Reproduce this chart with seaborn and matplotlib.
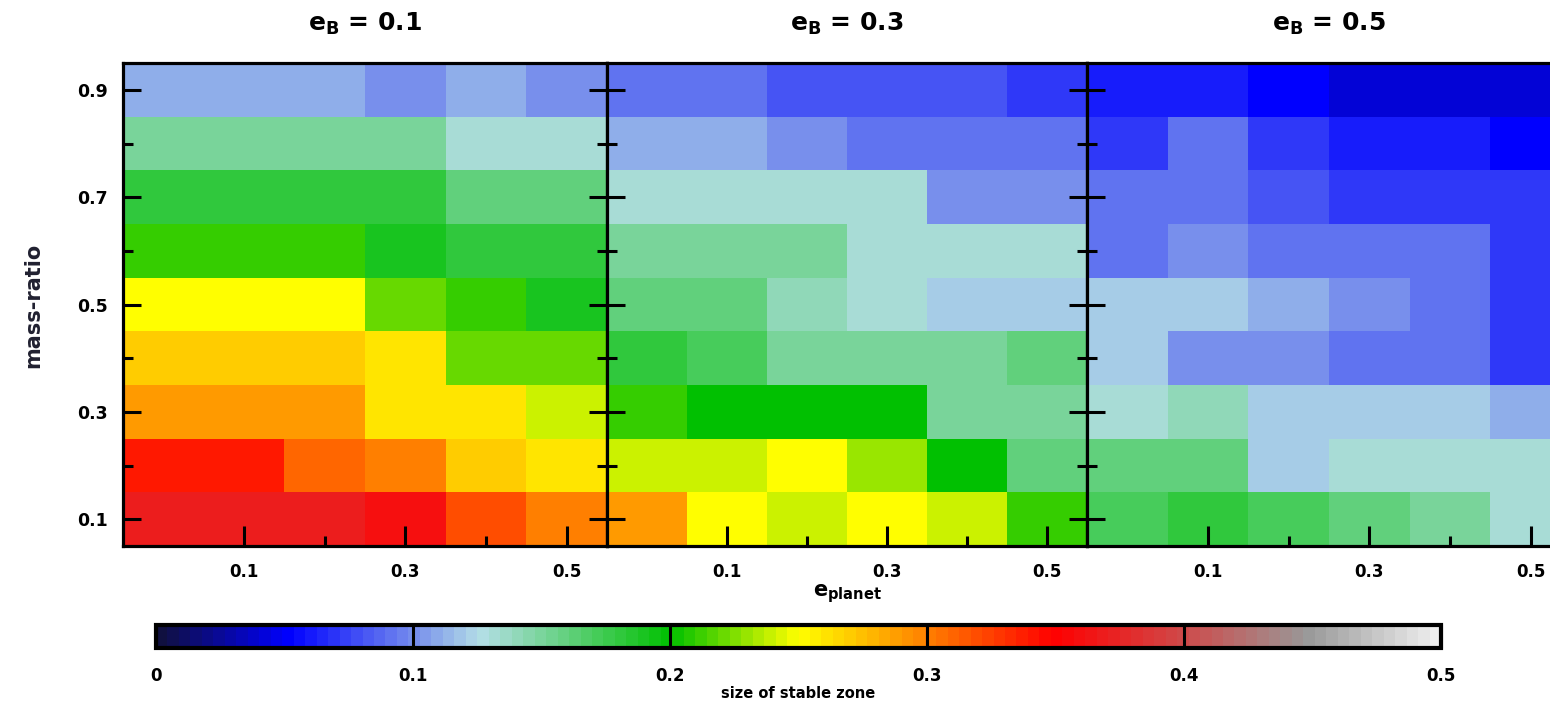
import numpy as np
import pandas as pd
import matplotlib
matplotlib.use("Agg")
import matplotlib.pyplot as plt
import seaborn as sns
from matplotlib.colors import LinearSegmentedColormap, Normalize
from matplotlib.ticker import FixedLocator
import matplotlib.cm as cm

# ---------------- data ----------------
e_planet = [0.0, 0.1, 0.2, 0.3, 0.4, 0.5]
mass_ratio = [0.9, 0.8, 0.7, 0.6, 0.5, 0.4, 0.3, 0.2, 0.1]
binary_ecc = [0.1, 0.3, 0.5]

stable_eb01 = [
    [0.11, 0.11, 0.11, 0.10, 0.11, 0.10],
    [0.15, 0.15, 0.15, 0.15, 0.13, 0.13],
    [0.18, 0.18, 0.18, 0.18, 0.16, 0.16],
    [0.21, 0.21, 0.21, 0.19, 0.18, 0.18],
    [0.25, 0.25, 0.25, 0.22, 0.21, 0.19],
    [0.27, 0.27, 0.27, 0.26, 0.22, 0.22],
    [0.29, 0.29, 0.29, 0.26, 0.26, 0.24],
    [0.34, 0.34, 0.31, 0.30, 0.27, 0.26],
    [0.37, 0.37, 0.37, 0.36, 0.32, 0.30],
]
stable_eb03 = [
    [0.09, 0.09, 0.08, 0.08, 0.08, 0.07],
    [0.11, 0.11, 0.10, 0.09, 0.09, 0.09],
    [0.13, 0.13, 0.13, 0.13, 0.10, 0.10],
    [0.15, 0.15, 0.15, 0.13, 0.13, 0.13],
    [0.16, 0.16, 0.14, 0.13, 0.12, 0.12],
    [0.18, 0.17, 0.15, 0.15, 0.15, 0.16],
    [0.21, 0.20, 0.20, 0.20, 0.15, 0.15],
    [0.24, 0.24, 0.25, 0.23, 0.20, 0.16],
    [0.29, 0.25, 0.24, 0.25, 0.24, 0.21],
]
stable_eb05 = [
    [0.06, 0.06, 0.05, 0.04, 0.04, 0.04],
    [0.07, 0.09, 0.07, 0.06, 0.06, 0.05],
    [0.09, 0.09, 0.08, 0.07, 0.07, 0.07],
    [0.09, 0.10, 0.09, 0.09, 0.09, 0.07],
    [0.12, 0.12, 0.11, 0.10, 0.09, 0.07],
    [0.12, 0.10, 0.10, 0.09, 0.09, 0.07],
    [0.13, 0.14, 0.12, 0.12, 0.12, 0.11],
    [0.16, 0.16, 0.12, 0.13, 0.13, 0.13],
    [0.17, 0.18, 0.17, 0.16, 0.15, 0.13],
]
panels = [stable_eb01, stable_eb03, stable_eb05]

x_major = [0.1, 0.3, 0.5]
x_minor = [0.2, 0.4]
y_major = [0.9, 0.7, 0.5, 0.3, 0.1]
y_minor = [0.8, 0.6, 0.4, 0.2]
cbar_ticks = [0.0, 0.1, 0.2, 0.3, 0.4, 0.5]
cbar_labels = ["0", "0.1", "0.2", "0.3", "0.4", "0.5"]

# ---------------- style ----------------
sns.set_theme(style="white")
plt.rcParams["font.family"] = ["DejaVu Sans"]
plt.rcParams["mathtext.default"] = "bf"
plt.rcParams["text.color"] = "black"
plt.rcParams["axes.labelcolor"] = "black"
plt.rcParams["xtick.color"] = "black"
plt.rcParams["ytick.color"] = "black"
plt.rcParams["axes.axisbelow"] = False

vmin, vmax = 0.0, 0.5
stops = [(0.0, "#101040"), (0.05, "#0000ff"), (0.10, "#7890ec"),
         (0.125, "#b4dee6"), (0.20, "#00c000"), (0.25, "#ffff00"),
         (0.30, "#ff8000"), (0.35, "#ff0000"), (0.40, "#d04848"),
         (0.45, "#999999"), (0.50, "#eeeeee")]
cmap = LinearSegmentedColormap.from_list(
    "stable", [((v - vmin) / (vmax - vmin), c) for v, c in stops], N=512)

W, H = 1550, 704
fig = plt.figure(figsize=(W / 100, H / 100), dpi=100)

def fx(px):
    return px / W

def fy(py):
    return 1 - py / H

top, bottom = 63, 546
panel_px = [(123, 607), (607, 1087), (1087, 1571)]

def xpos(vals):
    de = e_planet[1] - e_planet[0]
    return [round((v - e_planet[0]) / de) + 0.5 for v in vals]

def ypos(vals):
    dm = mass_ratio[0] - mass_ratio[1]
    return [round((mass_ratio[0] - v) / dm) + 0.5 for v in vals]

axes = []
for i, (x0, x1) in enumerate(panel_px):
    ax = fig.add_axes([fx(x0), fy(bottom), fx(x1 - x0), (bottom - top) / H])
    df = pd.DataFrame(panels[i], index=mass_ratio, columns=e_planet)
    sns.heatmap(df, ax=ax, cmap=cmap, vmin=vmin, vmax=vmax, cbar=False,
                xticklabels=False, yticklabels=False, linewidths=0)
    ax.set_axisbelow(False)
    ax.set_xlim(0, len(e_planet))
    ax.set_ylim(len(mass_ratio), 0)
    for s in ax.spines.values():
        s.set_visible(True)
        s.set_color("black")
        s.set_linewidth(2.3)
        s.set_zorder(5)
    ax.xaxis.set_major_locator(FixedLocator(xpos(x_major)))
    ax.xaxis.set_minor_locator(FixedLocator(xpos(x_minor)))
    ax.yaxis.set_major_locator(FixedLocator(ypos(y_major)))
    ax.yaxis.set_minor_locator(FixedLocator(ypos(y_minor)))
    ax.set_xticklabels([f"{v:.1f}" for v in x_major])
    if i == 0:
        ax.set_yticklabels([f"{v:.1f}" for v in y_major])
    else:
        ax.set_yticklabels([])
    ax.tick_params(axis="x", which="both", direction="in", bottom=True,
                   top=False, color="black", width=2.2, pad=12,
                   labelsize=12, labelcolor="black")
    ax.tick_params(axis="x", which="major", length=14.5)
    ax.tick_params(axis="x", which="minor", length=7)
    ax.tick_params(axis="y", which="both", direction="in", left=True,
                   right=True, color="black", width=2.2, pad=11,
                   labelsize=12.5, labelcolor="black")
    ax.tick_params(axis="y", which="major", length=13)
    ax.tick_params(axis="y", which="minor", length=7)
    for lab in ax.get_xticklabels() + ax.get_yticklabels():
        lab.set_fontweight("bold")
    ax.set_xlabel("")
    ax.set_ylabel("")
    fig.text(fx((x0 + x1) / 2), fy(24), f"e$_B$ = {binary_ecc[i]}",
             ha="center", va="center", fontsize=18, fontweight="bold",
             color="black")
    axes.append(ax)

# axis labels
fig.text(fx(33), fy(305), "mass-ratio", rotation=90, ha="center",
         va="center", fontsize=15, fontweight="bold", color="#202030")
fig.text(fx(847), fy(594), "e$_{planet}$", ha="center", va="center",
         fontsize=15, fontweight="bold", color="black")

# ---------------- colorbar ----------------
cb_l, cb_r, cb_t, cb_b = 156, 1441, 625, 648
cax = fig.add_axes([fx(cb_l), fy(cb_b), fx(cb_r - cb_l), (cb_b - cb_t) / H])
sm = cm.ScalarMappable(norm=Normalize(vmin, vmax), cmap=cmap.resampled(112))
cb = fig.colorbar(sm, cax=cax, orientation="horizontal")
cax.set_axisbelow(False)
cb.outline.set_linewidth(3)
cb.outline.set_edgecolor("black")
cb.set_ticks(cbar_ticks)
cb.set_ticklabels(cbar_labels)
cax.tick_params(axis="x", direction="in", length=17, width=2.2,
                color="black", pad=14, labelsize=12, bottom=True, top=False,
                labelcolor="black")
cax.xaxis.set_minor_locator(FixedLocator([]))
for lab in cax.get_xticklabels():
    lab.set_fontweight("bold")
fig.text(fx(798), fy(694), "size of stable zone", ha="center", va="center",
         fontsize=10.5, fontweight="bold", color="black")

fig.savefig("out.png", dpi=100)
